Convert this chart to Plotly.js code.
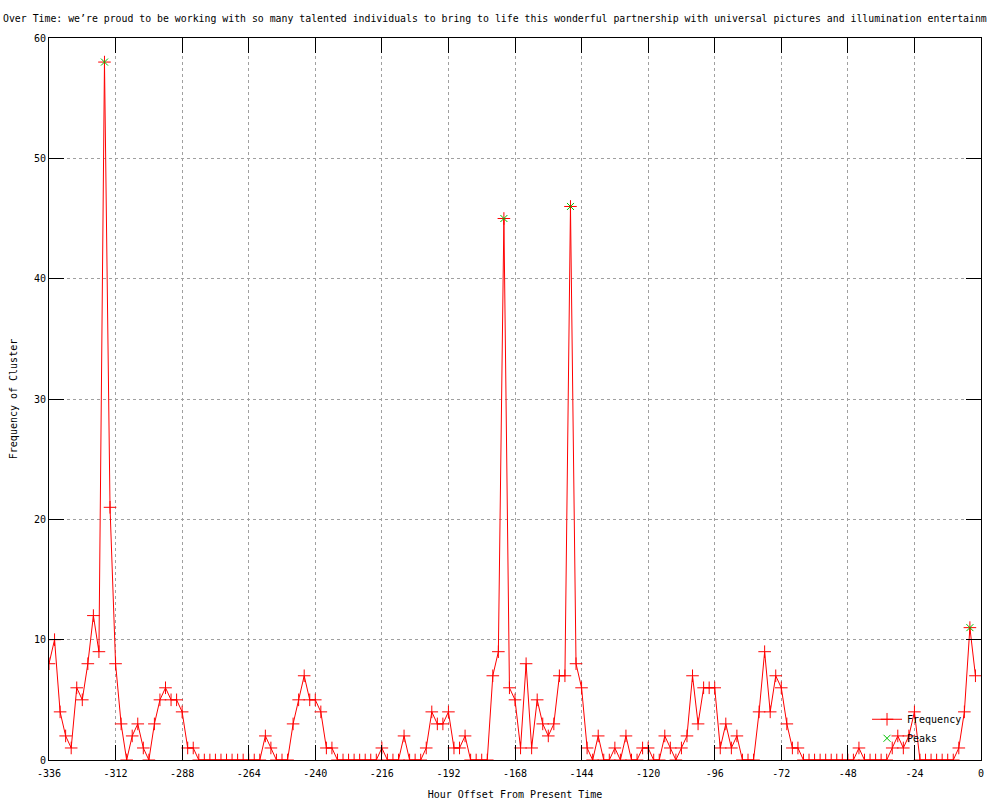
<!DOCTYPE html>
<html>
<head>
<meta charset="utf-8">
<script src="https://cdn.plot.ly/plotly-3.0.1.min.js"></script>
<style>html,body{margin:0;padding:0;background:#fff;}#chart{width:1000px;height:800px;}</style>
</head>
<body>
<div id="chart"></div>
<script>
// Hour offsets: one reading every 2 hours starting at -336
const START_HOUR = -336;
const STEP_HOURS = 2;

const frequency = [
  8, 10, 4, 2, 1, 6, 5, 8, 12, 9,
  58, 21, 8, 3, 0, 2, 3, 1, 0, 3,
  5, 6, 5, 5, 4, 1, 1, 0, 0, 0,
  0, 0, 0, 0, 0, 0, 0, 0, 0, 2,
  1, 0, 0, 0, 3, 5, 7, 5, 5, 4,
  1, 1, 0, 0, 0, 0, 0, 0, 0, 0,
  1, 0, 0, 0, 2, 0, 0, 0, 1, 4,
  3, 3, 4, 1, 1, 2, 0, 0, 0, 0,
  7, 9, 45, 6, 5, 1, 8, 1, 5, 3,
  2, 3, 7, 7, 46, 8, 6, 1, 0, 2,
  0, 0, 1, 0, 2, 0, 0, 1, 1, 0,
  0, 2, 1, 0, 1, 2, 7, 3, 6, 6,
  6, 1, 3, 1, 2, 0, 0, 0, 4, 9,
  4, 7, 6, 3, 1, 1, 0, 0, 0, 0,
  0, 0, 0, 0, 0, 0, 1, 0, 0, 0,
  0, 0, 1, 2, 1, 2, 4, 0, 0, 0,
  0, 0, 0, 0, 1, 4, 11, 7
];
const hours = frequency.map((_, i) => START_HOUR + STEP_HOURS * i);

const peakHours = [-316, -172, -148, -4];
const peakValues = [58, 45, 46, 11];

const xTickVals = [-336, -312, -288, -264, -240, -216, -192, -168, -144, -120, -96, -72, -48, -24, 0];
const xTickText = ['-336', '-312', '-288', '-264', '-240', '-216', '-192', '-168', '-144', '-120', '-96', '-72', '-48', '-24', '0'];
const yTickVals = [0, 10, 20, 30, 40, 50, 60];
const yTickText = ['0', '10', '20', '30', '40', '50', '60'];

const titleText = 'Over Time: we\u2019re proud to be working with so many talented individuals to bring to life this wonderful partnership with universal pictures and illumination entertainm';

const FONT = 'DejaVu Sans Mono, Liberation Mono, monospace';

const traces = [
  {
    x: hours, y: frequency, name: 'Frequency', type: 'scatter', mode: 'lines+markers',
    line: {color: '#ff0000', width: 1},
    marker: {symbol: 'cross-thin', size: 9, color: '#ff0000', line: {color: '#ff0000', width: 1}}
  },
  {
    x: peakHours, y: peakValues, name: 'Peaks', type: 'scatter', mode: 'markers',
    marker: {symbol: 'x-thin', size: 7, color: '#00c000', line: {color: '#00c000', width: 1}}
  }
];

const axisCommon = {
  ticks: 'inside', ticklen: 15, tickwidth: 1, tickcolor: '#000',
  showline: true, linecolor: '#000', linewidth: 1, mirror: 'ticks',
  showgrid: true, gridcolor: '#a0a0a0', griddash: 'dot', gridwidth: 1,
  zeroline: false, automargin: false,
  tickfont: {family: FONT, size: 10, color: '#000'}
};

const layout = {
  width: 1000, height: 800,
  paper_bgcolor: '#fff', plot_bgcolor: '#fff',
  margin: {l: 49, r: 19, t: 38, b: 40, pad: 0},
  title: {
    text: titleText, x: 0.003, xanchor: 'left', xref: 'container',
    y: 0.977, yanchor: 'middle', yref: 'container',
    font: {family: FONT, size: 9.85, color: '#000'}
  },
  xaxis: Object.assign({}, axisCommon, {
    range: [-336, 0], tickmode: 'array', tickvals: xTickVals, ticktext: xTickText,
    ticklabelstandoff: 4,
    title: {text: 'Hour Offset From Present Time', font: {family: FONT, size: 10, color: '#000'}, standoff: 12}
  }),
  yaxis: Object.assign({}, axisCommon, {
    range: [0, 60], tickmode: 'array', tickvals: yTickVals, ticktext: yTickText,
    title: {text: 'Frequency of Cluster', font: {family: FONT, size: 10, color: '#000'}, standoff: 14}
  }),
  showlegend: true,
  legend: {
    x: 0.985, xanchor: 'right', y: 0.01, yanchor: 'bottom',
    bgcolor: 'rgba(0,0,0,0)', borderwidth: 0,
    font: {family: FONT, size: 10, color: '#000'},
    tracegroupgap: 0, itemwidth: 30
  }
};

Plotly.newPlot('chart', traces, layout, {displayModeBar: false, staticPlot: true});
</script>
</body>
</html>
